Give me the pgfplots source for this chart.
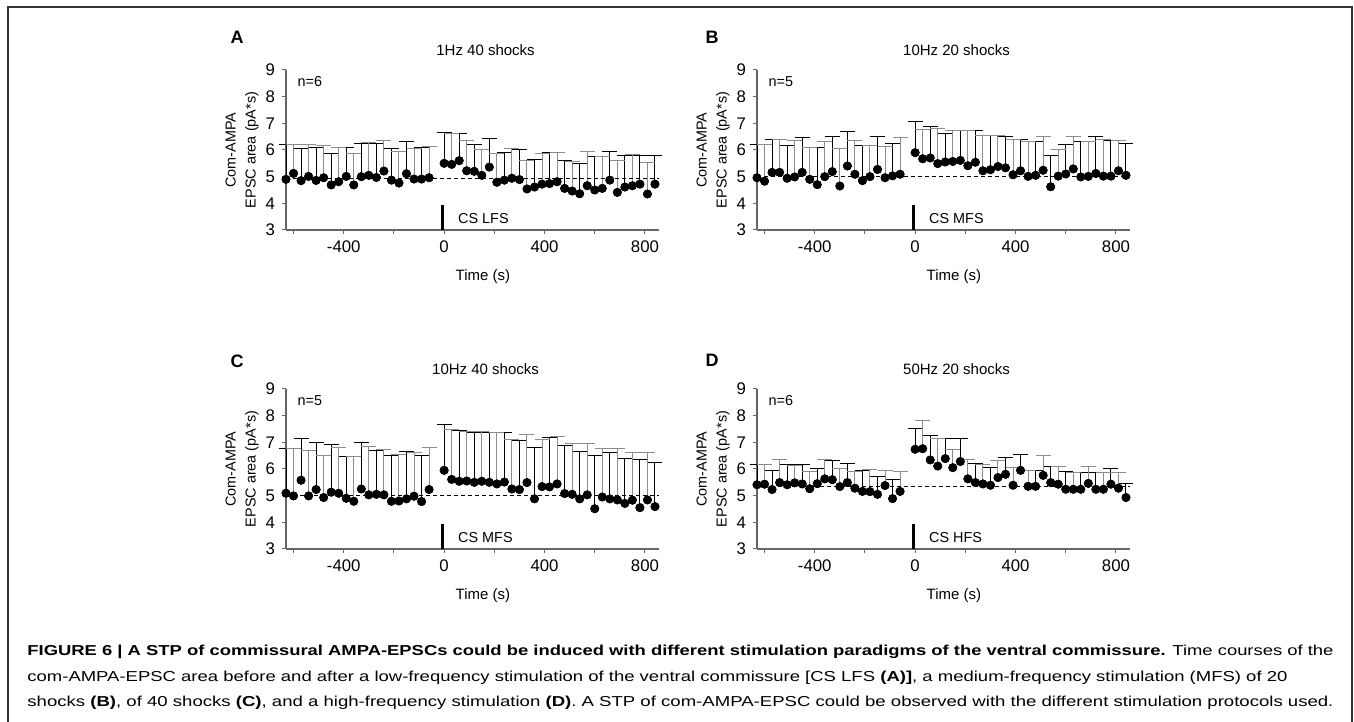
\documentclass[border=0pt]{standalone}
\usepackage{fontspec}
\setmainfont{Liberation Sans}
\usepackage{graphicx}
\usepackage{pgfplots}
\usepackage{pgfplotstable}
\pgfplotsset{compat=1.18}

% t = time (s), m = mean EPSC area, hi = top of error bar
\pgfplotstableread{
t m hi
-630 4.90 6.20
-600 5.12 6.20
-570 4.85 6.05
-540 5.01 6.20
-510 4.86 6.10
-480 4.96 6.15
-450 4.69 5.85
-420 4.81 6.10
-390 5.01 6.10
-360 4.69 5.85
-330 5.00 6.25
-300 5.05 6.28
-270 4.97 6.25
-240 5.21 6.35
-210 4.87 6.05
-180 4.76 5.95
-150 5.11 6.30
-120 4.91 6.05
-90 4.91 6.10
-60 4.96 6.13
0 5.50 6.65
30 5.46 6.60
60 5.60 6.60
90 5.22 6.35
120 5.20 6.20
150 5.05 6.00
180 5.36 6.42
210 4.79 5.85
240 4.87 5.92
270 4.94 6.07
300 4.89 6.00
330 4.54 5.60
360 4.61 5.65
390 4.72 5.85
420 4.74 5.90
450 4.81 5.90
480 4.56 5.62
510 4.46 5.55
540 4.36 5.50
570 4.66 5.93
600 4.50 5.75
630 4.56 5.75
660 4.87 5.93
690 4.41 5.62
720 4.61 5.80
750 4.66 5.82
780 4.72 5.80
810 4.35 5.52
840 4.72 5.80
}\dataA

\pgfplotstableread{
t m hi
-630 4.96 6.20
-600 4.83 6.20
-570 5.16 6.40
-540 5.16 6.40
-510 4.94 6.18
-480 4.99 6.35
-450 5.16 6.47
-420 4.90 6.10
-390 4.70 6.10
-360 5.00 6.30
-330 5.19 6.50
-300 4.65 6.05
-270 5.40 6.70
-240 5.09 6.35
-210 4.85 6.17
-180 5.00 6.17
-150 5.27 6.50
-120 4.96 6.12
-90 5.03 6.25
-60 5.09 6.47
0 5.90 7.08
30 5.67 6.78
60 5.70 6.88
90 5.49 6.80
120 5.55 6.60
150 5.57 6.72
180 5.61 6.72
210 5.41 6.72
240 5.54 6.72
270 5.22 6.55
300 5.26 6.55
330 5.38 6.55
360 5.33 6.50
390 5.07 6.40
420 5.22 6.40
450 5.01 6.30
480 5.05 6.30
510 5.24 6.50
540 4.62 5.80
570 5.02 6.02
600 5.10 6.20
630 5.29 6.50
660 4.99 6.30
690 5.01 6.30
720 5.12 6.50
750 5.02 6.38
780 5.02 6.35
810 5.22 6.35
840 5.05 6.25
}\dataB

\pgfplotstableread{
t m hi
-630 5.09 6.75
-600 4.99 6.75
-570 5.58 7.15
-540 4.99 6.70
-510 5.23 7.00
-480 4.93 6.50
-450 5.13 6.90
-420 5.09 6.80
-390 4.90 6.45
-360 4.79 6.47
-330 5.25 7.00
-300 5.03 6.85
-270 5.05 6.70
-240 5.03 6.72
-210 4.79 6.50
-180 4.80 6.55
-150 4.88 6.65
-120 4.98 6.60
-90 4.78 6.50
-60 5.23 6.80
0 5.95 7.68
30 5.61 7.48
60 5.54 7.45
90 5.55 7.42
120 5.50 7.35
150 5.54 7.40
180 5.50 7.38
210 5.44 7.38
240 5.51 7.35
270 5.25 7.10
300 5.23 7.05
330 5.49 7.30
360 4.88 6.80
390 5.34 7.10
420 5.33 7.18
450 5.44 7.22
480 5.08 6.88
510 5.05 6.95
540 4.88 6.65
570 5.03 6.95
600 4.51 6.50
630 4.95 6.78
660 4.88 6.60
690 4.84 6.75
720 4.71 6.38
750 4.83 6.60
780 4.55 6.35
810 4.84 6.60
840 4.59 6.25
}\dataC

\pgfplotstableread{
t m hi
-630 5.41 6.15
-600 5.43 6.15
-570 5.23 5.95
-540 5.49 6.35
-510 5.41 6.15
-480 5.48 6.12
-450 5.44 6.15
-420 5.26 5.92
-390 5.45 6.00
-360 5.63 6.35
-330 5.60 6.30
-300 5.34 6.00
-270 5.49 6.20
-240 5.28 5.90
-210 5.16 5.95
-180 5.15 5.98
-150 5.05 5.70
-120 5.38 5.95
-90 4.89 5.62
-60 5.16 5.92
0 6.74 7.50
30 6.76 7.80
60 6.34 7.25
90 6.11 7.15
120 6.39 7.15
150 6.05 6.72
180 6.28 7.15
210 5.63 6.35
240 5.49 6.20
270 5.44 6.15
300 5.39 6.05
330 5.68 6.30
360 5.80 6.42
390 5.39 6.05
420 5.95 6.55
450 5.35 5.95
480 5.35 5.95
510 5.76 6.52
540 5.49 6.10
570 5.43 6.10
600 5.24 5.90
630 5.24 5.85
660 5.24 5.85
690 5.46 6.08
720 5.24 5.85
750 5.24 5.85
780 5.43 6.02
810 5.28 5.85
840 4.93 5.45
}\dataD

\pgfplotsset{
  stp/.style={
    scale only axis, width=186.5pt, height=80pt,
    anchor=south west, clip=false,
    xmin=-630, xmax=856, ymin=3, ymax=9,
    axis lines=left, axis line style={-, black!60, line width=0.6pt},
    xtick={-400,0,400,800}, minor xtick={-600,-200,200,600},
    ytick={3,4,...,9},
    tick align=outside, major tick length=2pt, minor tick length=2pt,
    tick style={black!60, line width=0.5pt},
    ticklabel style={font=\fontsize{8.4}{9}\selectfont},
    /pgf/number format/assume math mode=true,
    xlabel={Time (s)}, ylabel={Com-AMPA\\EPSC area (pA*s)},
    xlabel style={font=\fontsize{7.5}{9}\selectfont,
      at={(axis description cs:0.528,-0.294)}, anchor=center},
    ylabel style={font=\fontsize{7.2}{10}\selectfont, align=center,
      at={(axis description cs:-0.118,0.5)}, anchor=center},
  },
  ebar/.style={only marks, mark=none,
    error bars/.cd, y dir=plus, y explicit,
    error bar style={#1, solid, line width=0.5pt},
    error mark options={#1, rotate=90, mark size=3.75pt, line width=0.5pt}},
  evenpts/.style={x filter/.code={\ifodd\coordindex\def\pgfmathresult{}\fi}},
  oddpts/.style={x filter/.code={\ifodd\coordindex\else\def\pgfmathresult{}\fi}},
  dots/.style={only marks, mark=*, mark size=2pt, black},
  base/.style={black, line width=0.5pt, dash pattern=on 2pt off 1.5pt},
  csbar/.style={black, line width=1.5pt},
}
\newcommand{\panel}[8]{%
  % #1 table, #2 baseline, #3 title, #4 n, #5 stim label, #6 letter, #7 letter x, #8 letter y
  \addplot[evenpts, ebar=black] table[x=t, y=m, y error expr=\thisrow{hi}-\thisrow{m}] {#1};
  \addplot[oddpts, ebar=black!45] table[x=t, y=m, y error expr=\thisrow{hi}-\thisrow{m}] {#1};
  \addplot[base] coordinates {(-630,#2) (856,#2)};
  \addplot[dots] table[x=t, y=m] {#1};
  \addplot[csbar] coordinates {(-8,3) (-8,3.93)};
  \node[anchor=west, font=\fontsize{7.2}{8}\selectfont] at (axis cs:28,3.44) {#5};
  \node[font=\fontsize{7.2}{8}\selectfont] at (axis cs:-535,8.55) {#4};
  \node[font=\fontsize{7.5}{9}\selectfont] at (axis cs:165,9.75) {#3};
  \node[font=\bfseries\fontsize{9}{10}\selectfont] at (axis cs:#7,#8) {#6};
}

\begin{document}
\begin{tikzpicture}
\useasboundingbox (0,0) rectangle (677pt,361pt);
\draw[black!80, line width=0.75pt] (4pt,-1pt) -- (4pt,357.5pt) -- (676pt,357.5pt) -- (676pt,-1pt);

\begin{axis}[stp, at={(143pt,246pt)}]
\panel{\dataA}{4.93}{1Hz 40 shocks}{n=6}{CS LFS}{A}{-825}{10.24}
\end{axis}

\begin{axis}[stp, at={(378.5pt,246pt)}]
\panel{\dataB}{5.01}{10Hz 20 shocks}{n=5}{CS MFS}{B}{-809}{10.24}
\end{axis}

\begin{axis}[stp, at={(143pt,86.5pt)}]
\panel{\dataC}{5.0}{10Hz 40 shocks}{n=5}{CS MFS}{C}{-825}{10.05}
\end{axis}

\begin{axis}[stp, at={(378.5pt,86.5pt)}]
\panel{\dataD}{5.33}{50Hz 20 shocks}{n=6}{CS HFS}{D}{-809}{10.07}
\end{axis}

\begin{scope}[every node/.style={anchor=base west, inner sep=0pt, font=\fontsize{7.2}{8}\selectfont}]
\node at (13.5pt,33pt) {\resizebox{653pt}{\height}{\textbf{FIGURE 6 | A STP of commissural AMPA-EPSCs could be induced with different stimulation paradigms of the ventral commissure.} Time courses of the}};
\node at (13.5pt,20pt) {\resizebox{630pt}{\height}{com-AMPA-EPSC area before and after a low-frequency stimulation of the ventral commissure [CS LFS \textbf{(A)]}, a medium-frequency stimulation (MFS) of 20}};
\node at (13.5pt,7.5pt) {\resizebox{653pt}{\height}{shocks \textbf{(B)}, of 40 shocks \textbf{(C)}, and a high-frequency stimulation \textbf{(D)}. A STP of com-AMPA-EPSC could be observed with the different stimulation protocols used.}};
\end{scope}
\end{tikzpicture}
\end{document}
